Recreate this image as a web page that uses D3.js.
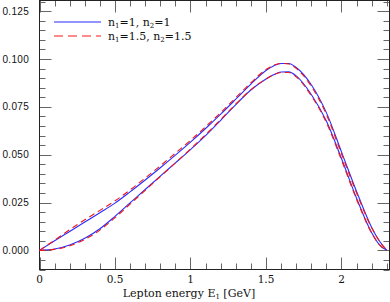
<!DOCTYPE html>
<html>
<head>
<meta charset="utf-8">
<script src="https://cdn.jsdelivr.net/npm/d3@7"></script>
<style>
  body { margin: 0; background: #fff; }
  .tick-label { font-family: "Liberation Sans", Arial, sans-serif; font-size: 10px; fill: #111; letter-spacing: 0.3px; }
  .serif { font-family: "DejaVu Serif", "Liberation Serif", serif; fill: #111; }
</style>
</head>
<body>
<svg id="chart" width="390" height="302"></svg>
<script>
// energy grid [GeV]
var energy = [0, 0.1, 0.2, 0.3, 0.4, 0.5, 0.6, 0.7, 0.8, 0.9, 1.0, 1.1, 1.2, 1.3, 1.4, 1.5, 1.55, 1.6, 1.65, 1.7, 1.8, 1.9, 2.0, 2.1, 2.2, 2.25, 2.3];

// n1=1, n2=1 (blue, solid) - upper and lower curves
var blueUpper = [0, 0.0050, 0.0099, 0.0148, 0.0197, 0.0247, 0.0306, 0.0368, 0.0432, 0.0498, 0.0566, 0.0637, 0.0712, 0.0790, 0.0869, 0.0940, 0.0964, 0.0977, 0.0977, 0.0956, 0.0866, 0.0720, 0.0515, 0.0308, 0.0120, 0.0050, 0];
var blueLower = [0, 0.0007, 0.0028, 0.0063, 0.0113, 0.0178, 0.0248, 0.0318, 0.0388, 0.0457, 0.0527, 0.0600, 0.0680, 0.0762, 0.0838, 0.0896, 0.0918, 0.0932, 0.0933, 0.0912, 0.0815, 0.0676, 0.0480, 0.0272, 0.0092, 0.0030, 0];

// n1=1.5, n2=1.5 (red, dashed)
var redUpper = [0, 0.0053, 0.0108, 0.0160, 0.0209, 0.0259, 0.0316, 0.0378, 0.0442, 0.0508, 0.0575, 0.0646, 0.0720, 0.0798, 0.0876, 0.0945, 0.0967, 0.0977, 0.0974, 0.0951, 0.0858, 0.0710, 0.0505, 0.0300, 0.0118, 0.0050, 0];
var redLower = [0, 0.0005, 0.0024, 0.0057, 0.0106, 0.0171, 0.0242, 0.0314, 0.0386, 0.0457, 0.0530, 0.0605, 0.0684, 0.0765, 0.0840, 0.0896, 0.0918, 0.0930, 0.0930, 0.0907, 0.0808, 0.0668, 0.0472, 0.0266, 0.0090, 0.0030, 0];

var xTicks = [0, 0.5, 1, 1.5, 2];
var yTicks = [0, 0.025, 0.05, 0.075, 0.1, 0.125];
var legendLabels = [["n", "1", "=1,  n", "2", "=1"], ["n", "1", "=1.5,  n", "2", "=1.5"]];

var blue = "#2b2bff";
var red = "#f01818";

var svg = d3.select("#chart");
var padL = 39.5, padR = 389.5, padT = 0.5, padB = 269.5;

var x = d3.scaleLinear().domain([0, 2.318]).range([padL, padR]);
var y = d3.scaleLinear().domain([-0.0100, 0.1306]).range([padB, padT]);

// ticks on all four sides, pointing inwards
var tickCol = "#666";
var g = svg.append("g");
d3.range(0, 2.32, 0.1).forEach(function(v) {
  var major = Math.abs(v * 2 - Math.round(v * 2)) < 1e-6;
  var len = major ? 12 : 6;
  var px = Math.round(x(v)) + 0.5;
  g.append("line").attr("x1", px).attr("x2", px).attr("y1", padB).attr("y2", padB - len).attr("stroke", tickCol);
  g.append("line").attr("x1", px).attr("x2", px).attr("y1", padT).attr("y2", padT + len).attr("stroke", tickCol);
});
d3.range(-0.01, 0.1305, 0.005).forEach(function(v) {
  var major = Math.abs(v / 0.025 - Math.round(v / 0.025)) < 1e-6;
  var len = major ? 12 : 6;
  var py = Math.round(y(v)) + 0.5;
  g.append("line").attr("x1", padL).attr("x2", padL + len).attr("y1", py).attr("y2", py).attr("stroke", tickCol);
  g.append("line").attr("x1", padR).attr("x2", padR - len).attr("y1", py).attr("y2", py).attr("stroke", tickCol);
});

svg.append("rect")
  .attr("x", padL).attr("y", padT)
  .attr("width", padR - padL).attr("height", padB - padT)
  .attr("fill", "none").attr("stroke", "#222").attr("stroke-width", 1);

// tick labels
svg.selectAll(".ylab").data(yTicks).enter().append("text")
  .attr("class", "tick-label")
  .attr("x", 29).attr("y", function(d) { return y(d) + 3.5; })
  .attr("text-anchor", "end")
  .text(function(d) { return d3.format(".3f")(d); });

svg.selectAll(".xlab").data(xTicks).enter().append("text")
  .attr("class", "serif")
  .attr("font-size", "10.5px")
  .attr("x", function(d) { return x(d); }).attr("y", 283)
  .attr("text-anchor", "middle")
  .text(function(d) { return d; });

var xl = svg.append("text").attr("class", "serif").attr("font-size", "11px")
  .attr("x", 189).attr("y", 297).attr("text-anchor", "middle");
xl.append("tspan").text("Lepton energy E");
xl.append("tspan").attr("font-size", "7px").attr("dy", 2).text("1");
xl.append("tspan").attr("dy", -2).text(" [GeV]");

// curves
var line = d3.line()
  .x(function(d) { return x(d[0]); })
  .y(function(d) { return y(d[1]); })
  .curve(d3.curveMonotoneX);

var series = [
  { vals: blueUpper, color: blue, dash: null },
  { vals: blueLower, color: blue, dash: null },
  { vals: redUpper, color: red, dash: "6,4" },
  { vals: redLower, color: red, dash: "6,4" }
];
series.forEach(function(s) {
  svg.append("path")
    .datum(energy.map(function(e, i) { return [e, s.vals[i]]; }))
    .attr("d", line)
    .attr("fill", "none")
    .attr("stroke", s.color)
    .attr("stroke-width", 1.1)
    .attr("stroke-dasharray", s.dash);
});

// legend
var leg = svg.append("g");
[{ c: blue, dash: null, w: 1.1 }, { c: "#ff8a8a", dash: "9,5", w: 2 }].forEach(function(d, i) {
  var ly = 22 + i * 14;
  leg.append("line").attr("x1", 54).attr("x2", 101).attr("y1", ly).attr("y2", ly)
    .attr("stroke", d.c).attr("stroke-width", d.w).attr("stroke-dasharray", d.dash);
  var t = leg.append("text").attr("class", "serif").attr("font-size", "11px")
    .attr("x", 108).attr("y", ly + 3.5);
  var parts = legendLabels[i];
  t.append("tspan").text(parts[0]);
  t.append("tspan").attr("font-size", "7px").attr("dy", 2).text(parts[1]);
  t.append("tspan").attr("dy", -2).text(parts[2]);
  t.append("tspan").attr("font-size", "7px").attr("dy", 2).text(parts[3]);
  t.append("tspan").attr("dy", -2).text(parts[4]);
});
</script>
</body>
</html>
